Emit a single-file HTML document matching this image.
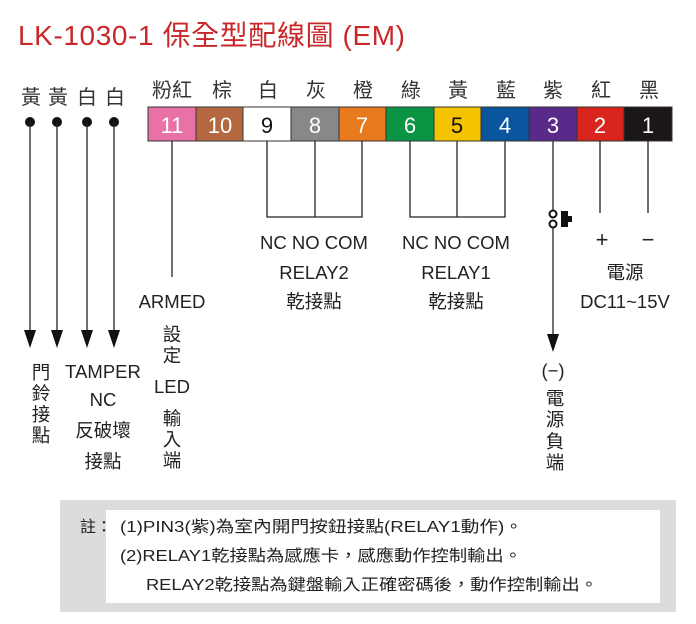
<!DOCTYPE html>
<html><head><meta charset="utf-8"><style>
html,body{margin:0;padding:0;background:#fff;}
svg{display:block;}
text{font-family:"Liberation Sans","Noto Sans CJK TC",sans-serif;}
</style></head><body>
<svg width="696" height="624" viewBox="0 0 696 624" xmlns="http://www.w3.org/2000/svg">
<text x="18" y="45" font-size="28" fill="#c8282a" textLength="387">LK-1030-1 保全型配線圖 (EM)</text>
<g font-size="20" fill="#333" text-anchor="middle">
<text x="31" y="104">黃</text><text x="58" y="104">黃</text><text x="87" y="104">白</text><text x="115" y="104">白</text>
<text x="172" y="97">粉紅</text><text x="222" y="97">棕</text><text x="268" y="97">白</text><text x="316" y="97">灰</text><text x="363" y="97">橙</text><text x="411" y="97">綠</text><text x="458" y="97">黃</text><text x="506" y="97">藍</text><text x="553" y="97">紫</text><text x="601" y="97">紅</text><text x="649" y="97">黑</text>
</g>
<g fill="#111"><circle cx="30" cy="122" r="5"/><circle cx="57" cy="122" r="5"/><circle cx="87" cy="122" r="5"/><circle cx="114" cy="122" r="5"/></g>
<g stroke="#222" stroke-width="1.3" fill="none">
<line x1="30" y1="122" x2="30" y2="335"/>
<line x1="57" y1="122" x2="57" y2="335"/>
<line x1="87" y1="122" x2="87" y2="335"/>
<line x1="114" y1="122" x2="114" y2="335"/>
<line x1="172" y1="141" x2="172" y2="277"/>
<polyline points="267,141 267,217 362,217 362,141"/><line x1="315" y1="141" x2="315" y2="217"/>
<polyline points="410,141 410,217 505,217 505,141"/><line x1="457" y1="141" x2="457" y2="217"/>
<line x1="553" y1="141" x2="553" y2="210"/>
<line x1="553" y1="226" x2="553" y2="340"/>
<line x1="600" y1="141" x2="600" y2="213"/><line x1="648" y1="141" x2="648" y2="213"/>
</g>
<g fill="#111">
<polygon points="24,330 36,330 30,348"/>
<polygon points="51,330 63,330 57,348"/>
<polygon points="81,330 93,330 87,348"/>
<polygon points="108,330 120,330 114,348"/>
<polygon points="547,334 559,334 553,352"/>
</g>
<g stroke="#111" stroke-width="2" fill="#fff"><circle cx="553" cy="214" r="3.5"/><circle cx="553" cy="224" r="3.5"/></g>
<rect x="561" y="211" width="7" height="16" fill="#111"/><rect x="568" y="216" width="4" height="6" fill="#111"/>
<g stroke="#333" stroke-width="1">
<rect x="148" y="107" width="48" height="34" fill="#e872a6"/>
<rect x="196" y="107" width="47" height="34" fill="#b46840"/>
<rect x="243" y="107" width="48" height="34" fill="#fff"/>
<rect x="291" y="107" width="48" height="34" fill="#888"/>
<rect x="339" y="107" width="47" height="34" fill="#e87a1e"/>
<rect x="386" y="107" width="48" height="34" fill="#0a9444"/>
<rect x="434" y="107" width="47" height="34" fill="#f5c400"/>
<rect x="481" y="107" width="48" height="34" fill="#0a559e"/>
<rect x="529" y="107" width="48" height="34" fill="#5a2a8a"/>
<rect x="577" y="107" width="47" height="34" fill="#d8261e"/>
<rect x="624" y="107" width="48" height="34" fill="#1a1716"/>
</g>
<g font-size="22" text-anchor="middle">
<text x="172" y="133" fill="#fff">11</text><text x="220" y="133" fill="#fff">10</text><text x="267" y="133" fill="#111">9</text><text x="315" y="133" fill="#fff">8</text><text x="362" y="133" fill="#fff">7</text><text x="410" y="133" fill="#fff">6</text><text x="457" y="133" fill="#111">5</text><text x="505" y="133" fill="#fff">4</text><text x="553" y="133" fill="#fff">3</text><text x="600" y="133" fill="#fff">2</text><text x="648" y="133" fill="#fff">1</text>
</g>
<g font-size="18.5" fill="#222" text-anchor="middle">
<text x="314" y="249">NC NO COM</text><text x="314" y="279">RELAY2</text><text x="314" y="308">乾接點</text>
<text x="456" y="249">NC NO COM</text><text x="456" y="279">RELAY1</text><text x="456" y="308">乾接點</text>
<text x="602" y="247" font-size="22">+</text><text x="648" y="247" font-size="22">−</text>
<text x="625" y="279">電源</text><text x="625" y="308">DC11~15V</text>
<text x="172" y="308">ARMED</text>
<text x="172" y="341">設</text><text x="172" y="362">定</text>
<text x="172" y="393">LED</text>
<text x="172" y="425">輸</text><text x="172" y="446">入</text><text x="172" y="467">端</text>
<text x="41" y="379">門</text><text x="41" y="400">鈴</text><text x="41" y="421">接</text><text x="41" y="442">點</text>
<text x="103" y="378">TAMPER</text><text x="103" y="406">NC</text><text x="103" y="437">反破壞</text><text x="103" y="468">接點</text>
<text x="553" y="377">(−)</text>
<text x="555" y="405">電</text><text x="555" y="426">源</text><text x="555" y="448">負</text><text x="555" y="469">端</text>
</g>
<rect x="60" y="500" width="616" height="112" fill="#dcdcdc"/>
<rect x="106" y="510" width="554" height="93" fill="#fff"/>
<g font-size="16" fill="#222">
<text x="80" y="532">註：</text>
<text x="120" y="532" textLength="403" lengthAdjust="spacingAndGlyphs">(1)PIN3(紫)為室內開門按鈕接點(RELAY1動作)。</text>
<text x="120" y="561" textLength="402" lengthAdjust="spacingAndGlyphs">(2)RELAY1乾接點為感應卡，感應動作控制輸出。</text>
<text x="146" y="590" textLength="452" lengthAdjust="spacingAndGlyphs">RELAY2乾接點為鍵盤輸入正確密碼後，動作控制輸出。</text>
</g>
</svg>
</body></html>
